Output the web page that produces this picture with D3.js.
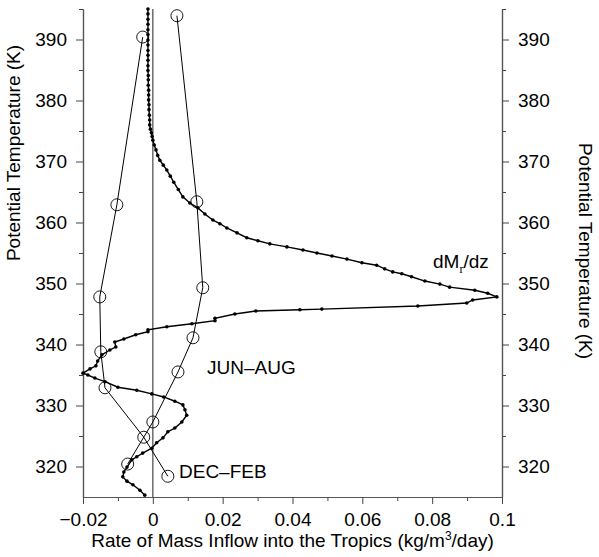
<!DOCTYPE html>
<html>
<head>
<meta charset="utf-8">
<script src="https://cdn.jsdelivr.net/npm/d3@7"></script>
<style>
  body { margin: 0; background: #fff; }
  svg text { font-family: "Liberation Sans", Arial, Helvetica, sans-serif; fill: #000; }
</style>
</head>
<body>
<div id="chart"></div>
<script>
// tick values and labels
var xTicks = [-0.02, 0, 0.02, 0.04, 0.06, 0.08, 0.1];
var xTickLabels = ["\u22120.02", "0", "0.02", "0.04", "0.06", "0.08", "0.1"];
var xMinorTicks = [-0.01, 0.01, 0.03, 0.05, 0.07, 0.09];
var yTicks = [320, 330, 340, 350, 360, 370, 380, 390];
var yMinorTicks = [325, 335, 345, 355, 365, 375, 385, 395];

// DEC-FEB (open circles)
var decfebTheta = [390.4, 362.9, 347.8, 338.8, 332.9, 324.8, 318.4];
var decfebRate = [-0.0029, -0.0103, -0.0152, -0.0149, -0.0137, -0.0026, 0.0043];

// JUN-AUG (open circles)
var junaugTheta = [393.9, 363.4, 349.3, 341.1, 335.5, 327.3, 320.4];
var junaugRate = [0.0069, 0.0126, 0.0143, 0.0115, 0.0072, 0.0, -0.0072];

// dMr/dz (small filled dots)
var dmTheta = [395.0, 394.2, 393.3, 392.5, 391.6, 390.8, 389.9, 389.1, 388.2, 387.4, 386.6, 385.7,
  384.9, 384.1, 383.4, 382.5, 381.7, 380.9, 380.1, 379.3, 378.5, 377.6, 376.8, 376.0, 375.3,
  374.7, 374.1, 373.5, 372.7, 371.9, 371.0, 370.2, 369.4, 368.6, 367.6, 366.6, 365.4, 364.2,
  363.2, 362.4, 361.4, 360.4, 359.8, 359.1, 358.3, 357.5, 357.0, 356.5, 356.0, 355.5, 355.0,
  354.5, 354.0, 353.4, 353.0, 352.4, 351.9, 351.6, 351.1, 350.4, 349.9, 349.4, 348.9, 348.4,
  347.8, 347.3, 346.8, 346.3, 345.8, 345.7, 345.5, 345.0, 344.3, 343.9, 343.4, 342.9, 342.4,
  342.1, 341.6, 340.9, 340.4, 339.6, 339.1, 338.3, 337.3, 336.5, 336.0, 335.3, 335.0, 334.5,
  333.9, 333.0, 332.5, 331.9, 331.4, 330.7, 330.1, 329.3, 328.4, 327.3, 326.3, 325.7, 324.7,
  323.9, 323.0, 322.2, 321.6, 321.1, 319.9, 319.1, 318.3, 317.6, 317.0, 316.1, 315.3];
var dmRate = [-0.0014, -0.0014, -0.0014, -0.0014, -0.0014, -0.0014, -0.0014, -0.0014, -0.0014,
  -0.0014, -0.0014, -0.0014, -0.0014, -0.0013, -0.0013, -0.0013, -0.0012, -0.0012, -0.0012,
  -0.0011, -0.0011, -0.0010, -0.0009, -0.0009, -0.0007, -0.0004, -0.0002, 0.0, 0.0004, 0.0009,
  0.0014, 0.0020, 0.0030, 0.0040, 0.0050, 0.0060, 0.0073, 0.0086, 0.0106, 0.0129, 0.0149,
  0.0172, 0.0192, 0.0212, 0.0241, 0.0269, 0.0301, 0.0335, 0.0384, 0.0430, 0.0470, 0.0513,
  0.0556, 0.0599, 0.0641, 0.0664, 0.0687, 0.0713, 0.0741, 0.0779, 0.0822, 0.0850, 0.0922,
  0.0959, 0.0985, 0.0916, 0.0899, 0.0759, 0.0484, 0.0421, 0.0295, 0.0235, 0.0178, 0.0178,
  0.0112, 0.0040, -0.0014, -0.0014, -0.0049, -0.0083, -0.0109, -0.0106, -0.0123, -0.0146,
  -0.0158, -0.0163, -0.0180, -0.0200, -0.0186, -0.0166, -0.0137, -0.0100, -0.0046, -0.0003,
  0.0031, 0.0063, 0.0086, 0.0092, 0.0097, 0.0083, 0.0063, 0.0043, 0.0029, 0.0011, -0.0003,
  -0.0029, -0.0046, -0.0060, -0.0074, -0.0083, -0.0086, -0.0074, -0.0057, -0.0037, -0.0023];

var width = 599, height = 557;
var plotLeft = 83, plotRight = 502, plotTop = 9, plotBottom = 497;

var svg = d3.select("#chart").append("svg")
  .attr("width", width)
  .attr("height", height);

var x = d3.scaleLinear().domain([-0.02, 0.1]).range([plotLeft, plotRight]);
var y = d3.scaleLinear().domain([315, 395]).range([plotBottom, plotTop]);

function styleAxis(g) {
  g.select(".domain").attr("stroke", "#555").attr("stroke-width", 1.2);
  g.selectAll(".tick line").attr("stroke", "#444");
  g.selectAll(".tick text").style("font-size", "19px").attr("fill", "#000");
}

// bottom axis
svg.append("g")
  .attr("transform", "translate(0," + plotBottom + ")")
  .call(d3.axisBottom(x).tickValues(xMinorTicks).tickSize(4).tickSizeOuter(0).tickFormat(""))
  .call(styleAxis);
svg.append("g")
  .attr("transform", "translate(0," + plotBottom + ")")
  .call(d3.axisBottom(x).tickValues(xTicks).tickSize(7).tickSizeOuter(0).tickPadding(9)
    .tickFormat(function(d, i) { return xTickLabels[i]; }))
  .call(styleAxis);

// left axis
svg.append("g")
  .attr("transform", "translate(" + plotLeft + ",0)")
  .call(d3.axisLeft(y).tickValues(yMinorTicks).tickSize(4).tickSizeOuter(0).tickFormat(""))
  .call(styleAxis);
svg.append("g")
  .attr("transform", "translate(" + plotLeft + ",0)")
  .call(d3.axisLeft(y).tickValues(yTicks).tickSize(7).tickSizeOuter(0).tickPadding(9).tickFormat(d3.format("d")))
  .call(styleAxis);

// right axis
svg.append("g")
  .attr("transform", "translate(" + plotRight + ",0)")
  .call(d3.axisRight(y).tickValues(yMinorTicks).tickSize(4).tickSizeOuter(0).tickFormat(""))
  .call(styleAxis);
svg.append("g")
  .attr("transform", "translate(" + plotRight + ",0)")
  .call(d3.axisRight(y).tickValues(yTicks).tickSize(7).tickSizeOuter(0).tickPadding(9).tickFormat(d3.format("d")))
  .call(styleAxis);

// zero line
svg.append("line")
  .attr("x1", x(0)).attr("x2", x(0))
  .attr("y1", y(395)).attr("y2", y(315))
  .attr("stroke", "#555")
  .attr("stroke-width", 1.3);

var line = d3.line()
  .x(function(d) { return x(d[0]); })
  .y(function(d) { return y(d[1]); });

// dMr/dz
var dmData = d3.zip(dmRate, dmTheta);
svg.append("path")
  .datum(dmData)
  .attr("fill", "none")
  .attr("stroke", "#000")
  .attr("stroke-width", 1.4)
  .attr("d", line);
svg.append("g").selectAll("circle")
  .data(dmData)
  .enter().append("circle")
  .attr("cx", function(d) { return x(d[0]); })
  .attr("cy", function(d) { return y(d[1]); })
  .attr("r", 1.8)
  .attr("fill", "#000");

// open circle series
function addSeason(rate, theta) {
  var data = d3.zip(rate, theta);
  svg.append("path")
    .datum(data)
    .attr("fill", "none")
    .attr("stroke", "#000")
    .attr("stroke-width", 1)
    .attr("d", line);
  svg.append("g").selectAll("circle")
    .data(data)
    .enter().append("circle")
    .attr("cx", function(d) { return x(d[0]); })
    .attr("cy", function(d) { return y(d[1]); })
    .attr("r", 6)
    .attr("fill", "none")
    .attr("stroke", "#000")
    .attr("stroke-width", 0.9);
}
addSeason(decfebRate, decfebTheta);
addSeason(junaugRate, junaugTheta);

// labels
svg.append("text")
  .attr("x", 207).attr("y", 374)
  .style("font-size", "19px")
  .text("JUN\u2013AUG");
svg.append("text")
  .attr("x", 179).attr("y", 478)
  .style("font-size", "19px")
  .text("DEC\u2013FEB");
var dm = svg.append("text")
  .attr("x", 433).attr("y", 268)
  .style("font-size", "19px");
dm.append("tspan").text("dM");
dm.append("tspan").attr("dy", 5).style("font-size", "12px")
  .style("font-family", "'Liberation Serif', serif").text("r");
dm.append("tspan").attr("dy", -5).text("/dz");

// axis titles
var xt = svg.append("text")
  .attr("x", (plotLeft + plotRight) / 2).attr("y", 547)
  .attr("text-anchor", "middle")
  .style("font-size", "19px");
xt.append("tspan").text("Rate of Mass Inflow into the Tropics (kg/m");
xt.append("tspan").attr("dy", -7).style("font-size", "12px").text("3");
xt.append("tspan").attr("dy", 7).text("/day)");

svg.append("text")
  .attr("transform", "translate(20,153) rotate(-90)")
  .attr("text-anchor", "middle")
  .style("font-size", "19px")
  .text("Potential Temperature (K)");
svg.append("text")
  .attr("transform", "translate(579,251) rotate(90)")
  .attr("text-anchor", "middle")
  .style("font-size", "19px")
  .text("Potential Temperature (K)");
</script>
</body>
</html>
